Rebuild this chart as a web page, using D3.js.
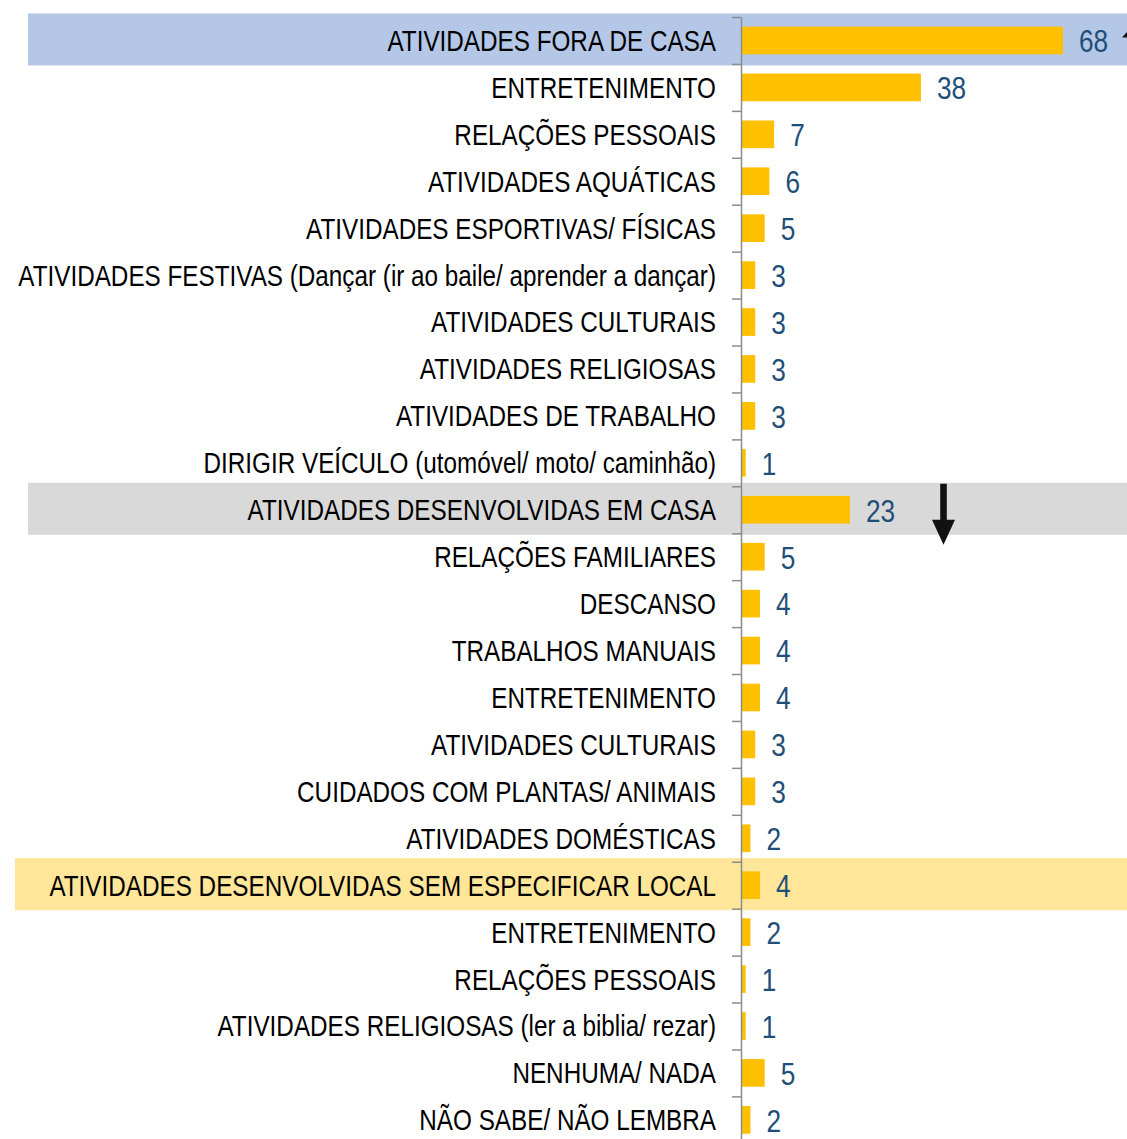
<!DOCTYPE html>
<html>
<head>
<meta charset="utf-8">
<script src="https://cdnjs.cloudflare.com/ajax/libs/d3/7.8.5/d3.min.js"></script>
<style>
  body { margin: 0; background: #fff; }
  svg { display: block; }
  .lbl { font-family: "Liberation Sans", Arial, sans-serif; }
</style>
</head>
<body>
<svg width="1127" height="1139"></svg>
<script>
var categories = [
  "ATIVIDADES FORA DE CASA",
  "ENTRETENIMENTO",
  "RELAÇÕES PESSOAIS",
  "ATIVIDADES AQUÁTICAS",
  "ATIVIDADES ESPORTIVAS/ FÍSICAS",
  "ATIVIDADES FESTIVAS (Dançar (ir ao baile/ aprender a dançar)",
  "ATIVIDADES CULTURAIS",
  "ATIVIDADES RELIGIOSAS",
  "ATIVIDADES DE TRABALHO",
  "DIRIGIR VEÍCULO (utomóvel/ moto/ caminhão)",
  "ATIVIDADES DESENVOLVIDAS EM CASA",
  "RELAÇÕES FAMILIARES",
  "DESCANSO",
  "TRABALHOS MANUAIS",
  "ENTRETENIMENTO",
  "ATIVIDADES CULTURAIS",
  "CUIDADOS COM PLANTAS/ ANIMAIS",
  "ATIVIDADES DOMÉSTICAS",
  "ATIVIDADES DESENVOLVIDAS SEM ESPECIFICAR LOCAL",
  "ENTRETENIMENTO",
  "RELAÇÕES PESSOAIS",
  "ATIVIDADES RELIGIOSAS (ler a biblia/ rezar)",
  "NENHUMA/ NADA",
  "NÃO SABE/ NÃO LEMBRA"
];

var values = [68, 38, 7, 6, 5, 3, 3, 3, 3, 1, 23, 5, 4, 4, 4, 3, 3, 2, 4, 2, 1, 1, 5, 2];

// highlighted group headers: row index -> band colour
var highlights = [
  { row: 0,  color: "#b4c7e7", x0: 28 },
  { row: 10, color: "#d9d9d9", x0: 28 },
  { row: 18, color: "#ffe699", x0: 15 }
];

var svg = d3.select("svg"),
    width = +svg.attr("width"),
    height = +svg.attr("height");

var axisX = 741;
var rowTop = 17, step = 46.93;
var narrow = 0.837;   // squeeze Liberation Sans to look like Arial Narrow

var rows = d3.range(categories.length);

var y = d3.scaleBand()
    .domain(rows)
    .range([rowTop, rowTop + step * rows.length])
    .paddingInner(0.41)
    .paddingOuter(0.205);

var x = d3.scaleLinear()
    .domain([0, 68])
    .range([axisX, 1063]);

// boundaries for the tick marks
var yb = d3.scaleLinear()
    .domain([0, rows.length])
    .range([rowTop, rowTop + step * rows.length]);

function mid(i) { return y(i) + y.bandwidth() / 2; }

// highlight bands
svg.append("g").selectAll("rect")
    .data(highlights)
    .enter().append("rect")
    .attr("x", function(d) { return d.x0; })
    .attr("y", function(d) { return mid(d.row) - 27; })
    .attr("width", function(d) { return width - d.x0; })
    .attr("height", 52)
    .attr("fill", function(d) { return d.color; });

// bars
svg.append("g").selectAll("rect")
    .data(rows)
    .enter().append("rect")
    .attr("x", x(0))
    .attr("y", function(i) { return y(i); })
    .attr("width", function(i) { return x(values[i]) - x(0); })
    .attr("height", y.bandwidth())
    .attr("fill", "#ffc000");

// axis with tick marks at category boundaries
var axis = svg.append("g")
    .attr("transform", "translate(" + axisX + ",0)")
    .call(d3.axisLeft(yb)
        .tickValues(d3.range(0, rows.length + 1))
        .tickFormat("")
        .tickSize(9)
        .tickSizeOuter(0));
axis.selectAll("line, path").attr("stroke", "#8c8c8c").attr("stroke-width", 1.5);

// category labels
svg.append("g").selectAll("text")
    .data(rows)
    .enter().append("text")
    .attr("class", "lbl")
    .attr("transform", function(i) {
      return "translate(716," + mid(i) + ") scale(" + narrow + ",1)";
    })
    .attr("dy", "0.36em")
    .attr("text-anchor", "end")
    .attr("font-size", 29)
    .attr("fill", "#000")
    .text(function(i) { return categories[i]; });

// value labels
svg.append("g").selectAll("text")
    .data(rows)
    .enter().append("text")
    .attr("class", "lbl")
    .attr("transform", function(i) {
      return "translate(" + (x(values[i]) + 16) + "," + mid(i) + ") scale(0.82,1)";
    })
    .attr("dy", "0.37em")
    .attr("font-size", 32)
    .attr("fill", "#1f4e79")
    .text(function(i) { return values[i]; });

// down arrow next to the "em casa" group
var ax = 943.5, ay = mid(10);
svg.append("path")
    .attr("d", d3.line()([
      [ax - 3.3, ay - 26], [ax + 3.3, ay - 26], [ax + 3.3, ay + 10],
      [ax + 11.5, ay + 10], [ax, ay + 35], [ax - 11.5, ay + 10],
      [ax - 3.3, ay + 10]
    ]) + "Z")
    .attr("fill", "#111");

// up arrow cut off at the right edge
var ux = 1134, uy = mid(0) - 16;
svg.append("path")
    .attr("d", d3.line()([
      [ux, uy], [ux + 12, uy + 13], [ux + 3.3, uy + 13], [ux + 3.3, uy + 60],
      [ux - 3.3, uy + 60], [ux - 3.3, uy + 13], [ux - 12, uy + 13]
    ]) + "Z")
    .attr("fill", "#111");
</script>
</body>
</html>
